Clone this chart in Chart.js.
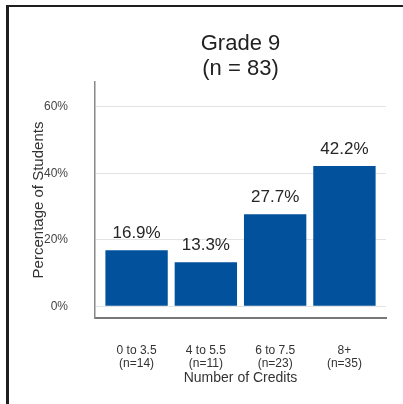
<!DOCTYPE html>
<html>
<head>
<meta charset="utf-8">
<script src="https://cdn.jsdelivr.net/npm/chart.js@4.4.1/dist/chart.umd.min.js"></script>
<style>
  html, body { margin: 0; padding: 0; background: #fff; }
  .wrap { position: relative; width: 403px; height: 404px; }
  .frame {
    position: absolute; left: 6px; top: 5px; right: 0; bottom: 0;
    border-top: 2px solid #1e1e1e; border-left: 3px solid #1e1e1e;
    pointer-events: none;
  }
</style>
</head>
<body>
<div class="wrap">
  <canvas id="myChart" width="403" height="404"></canvas>
  <div class="frame"></div>
</div>
<script>
// chart data
const categories = [
  ["0 to 3.5", "(n=14)"],
  ["4 to 5.5", "(n=11)"],
  ["6 to 7.5", "(n=23)"],
  ["8+", "(n=35)"],
];
const percents = [16.9, 13.3, 27.7, 42.2];
const yTicks = [0, 20, 40, 60];
const titleLines = ["Grade 9", "(n = 83)"];

Chart.defaults.font.family = '"Liberation Sans", Arial, sans-serif';

// value labels above the bars
const barLabels = {
  id: "barLabels",
  afterDatasetsDraw(chart) {
    const ctx = chart.ctx;
    const meta = chart.getDatasetMeta(0);
    ctx.save();
    ctx.font = '17px "Liberation Sans", Arial, sans-serif';
    ctx.fillStyle = "#262626";
    ctx.textAlign = "center";
    ctx.textBaseline = "alphabetic";
    meta.data.forEach((bar, i) => {
      ctx.fillText(percents[i].toFixed(1) + "%", bar.x, bar.y - 12);
    });
    ctx.restore();
  },
};

const ctx = document.getElementById("myChart");

if (ctx) {
  const myChart = new Chart(ctx, {
    type: "bar",
    data: {
      datasets: [
        {
          label: "Percentage of Students",
          data: percents.map((v, i) => ({ x: i, y: v })),
          backgroundColor: "#02519d",
          categoryPercentage: 1,
          barPercentage: 0.9,
        },
      ],
    },
    plugins: [barLabels],
    options: {
      responsive: false,
      animation: false,
      layout: {
        padding: { left: 30, right: 17, top: 0, bottom: 0 },
      },
      plugins: {
        legend: { display: false },
        tooltip: { enabled: false },
        title: {
          display: true,
          fullSize: false,
          text: titleLines,
          color: "#222",
          font: { size: 22, weight: "normal", lineHeight: "25px" },
          padding: { top: 31, bottom: 1 },
        },
      },
      scales: {
        x: {
          type: "linear",
          offset: false,
          min: -0.6,
          max: 3.6,
          afterBuildTicks: (scale) => {
            scale.ticks = categories.map((c, i) => ({ value: i }));
          },
          afterFit: (scale) => {
            scale.height = 86;
          },
          grid: { display: false, drawTicks: false, offset: false },
          border: { display: true, color: "#777", width: 2 },
          ticks: {
            padding: 26,
            color: "#333",
            font: { size: 12, lineHeight: "13px" },
            maxRotation: 0,
            callback: (value) => categories[value],
          },
          title: {
            display: true,
            text: "Number of Credits",
            color: "#333",
            font: { size: 14, lineHeight: 1.2 },
            padding: { top: 0, bottom: 17 },
          },
        },
        y: {
          min: -3.5,
          max: 67.5,
          afterBuildTicks: (scale) => {
            scale.ticks = yTicks.map((v) => ({ value: v }));
          },
          afterFit: (scale) => {
            scale.width = 65;
          },
          grid: { color: "#e3e3e3", lineWidth: 1, drawTicks: false },
          border: { display: true, color: "#888", width: 1.5 },
          ticks: {
            padding: 27,
            color: "#444",
            font: { size: 12 },
            callback: (value) => value + "%",
          },
          title: {
            display: true,
            text: "Percentage of Students",
            color: "#333",
            font: { size: 15, lineHeight: 1.2 },
            padding: { top: 0, bottom: 0 },
          },
        },
      },
    },
  });
}
</script>
</body>
</html>
